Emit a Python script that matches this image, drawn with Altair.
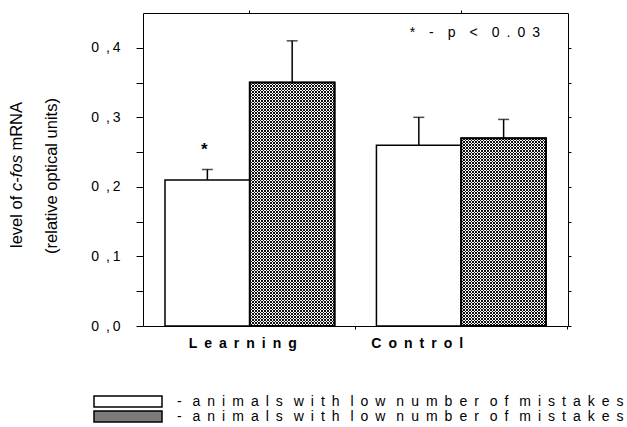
import math

import altair as alt
import pandas as pd

# ---- data -------------------------------------------------------------
groups = ["Learning", "Control"]
series = ["plain", "hatched"]

plain_means = [0.21, 0.26]
plain_sem = [0.015, 0.04]
plain_marks = ["*", ""]

hatched_means = [0.35, 0.27]
hatched_sem = [0.06, 0.027]
hatched_marks = ["", ""]

legend_text = "- animals with low number of mistakes"
note_text = "* - p < 0.03"
title_parts = ["level of", "c-fos", "mRNA"]
title_line2 = "(relative optical units)"

y_ticks = [round(i * 0.05, 2) for i in range(9)]

rows = []
for i, g in enumerate(groups):
    rows.append(dict(group=g, series="plain", value=plain_means[i],
                     sem=plain_sem[i], mark=plain_marks[i]))
    rows.append(dict(group=g, series="hatched", value=hatched_means[i],
                     sem=hatched_sem[i], mark=hatched_marks[i]))
df = pd.DataFrame(rows)
df["top"] = df["value"] + df["sem"]

# ---- layout -----------------------------------------------------------
LEFT, TOP, W, H = 143, 13, 425, 313
Y_MAX = 0.45
PAD_INNER, PAD_OUTER = 0.198, 0.104
FONT = "Liberation Sans"
EN = "\u2002"


def spaced(text, gap=EN, word_gap=EN + " "):
    """Letter-spaced rendering of a phrase."""
    return word_gap.join(gap.join(w) for w in text.split(" "))


# cross-hatch fill built from two families of 45-degree stripes that
# repeat every H_PERIOD px along a row, each stripe one period-third wide
H_PERIOD, DARK = 3.0, 1 / 3
INK, CLEAR = "#111111", "rgba(0,0,0,0)"
MESH_GREY = "#7b7b7b"  # average tone of the mesh, used for the legend swatch


def mesh_fill(w, h, rising):
    n = math.ceil((w + h) / H_PERIOD)
    # stretch the gradient so that n periods span exactly n * H_PERIOD px
    s = (n * H_PERIOD) / (w * w + h * h)
    if rising:
        x1, y1, x2, y2 = 0, 0, s * w, s * h
    else:
        x1, y1, x2, y2 = 0, 1, s * w, 1 - s * h
    stops = []
    for k in range(n):
        a, b, c = k / n, (k + DARK) / n, (k + 1) / n
        stops += [
            alt.GradientStop(offset=a, color=INK),
            alt.GradientStop(offset=b, color=INK),
            alt.GradientStop(offset=b, color=CLEAR),
            alt.GradientStop(offset=c, color=CLEAR),
        ]
    return alt.LinearGradient(gradient="linear", stops=stops,
                              x1=x1, y1=y1, x2=x2, y2=y2)


step = W / (len(groups) - PAD_INNER + 2 * PAD_OUTER)
bar_w = step * (1 - PAD_INNER) / len(series)

x_scale = alt.Scale(paddingInner=PAD_INNER, paddingOuter=PAD_OUTER)
y_scale = alt.Scale(domain=[0, Y_MAX], nice=False, zero=True)
xo_scale = alt.Scale(paddingInner=0, paddingOuter=0)

axis_common = dict(domainColor="black", domainWidth=1, tickColor="black",
                   tickWidth=1, grid=False, title=None)

label_map = " : ".join(
    [f"datum.value == '{g}' ? '{spaced(g)}'" for g in groups[:-1]]
    + [f"'{spaced(groups[-1])}'"]
)
bottom_axis = alt.Axis(
    orient="bottom", bandPosition=1.124, tickSize=3, labelAngle=0,
    labelFont=FONT, labelFontSize=14, labelFontWeight="bold",
    labelColor="black", labelBaseline="alphabetic", labelPadding=18,
    labelExpr=label_map,
    labelOffset={"condition": {"test": "datum.value == 'Control'", "value": -44},
                 "value": -7},
    **axis_common,
)
top_axis = alt.Axis(orient="top", tickSize=3, labels=False, **axis_common)
left_axis = alt.Axis(
    orient="left", values=y_ticks, tickSize=7, labelPadding=16,
    labelFont=FONT, labelFontSize=14, labelColor="black",
    labelExpr="round(datum.value * 100) % 10 == 0 ? "
              "replace(format(datum.value, '.1f'), '.', '\u2002,\u2009') : ''",
    **axis_common,
)
right_axis = alt.Axis(orient="right", values=y_ticks, tickSize=3,
                      labels=False, **axis_common)


def x_enc(axis=None):
    return alt.X("group:N", sort=groups, scale=x_scale, axis=axis, title=None)


def y_enc(field="value", axis=None):
    return alt.Y(f"{field}:Q", scale=y_scale, axis=axis, title=None)


xo = alt.XOffset("series:N", sort=series, scale=xo_scale)

legend = alt.Legend(
    orient="none", legendX=-50, legendY=381, title=None, direction="vertical",
    symbolType="M-1,-0.162H1V0.162H-1Z", symbolSize=68 * 68,
    symbolStrokeColor="black", symbolStrokeWidth=1.5,
    labelFont=FONT, labelFontSize=14, labelColor="black", labelLimit=700,
    labelOffset=14, labelExpr=f"'{spaced(legend_text)}'",
    clipHeight=15, rowPadding=0, padding=0,
)

# ---- marks ------------------------------------------------------------
bars = alt.Chart(df).mark_bar(stroke="black", strokeWidth=1.5).encode(
    x=x_enc(bottom_axis), xOffset=xo, y=y_enc(axis=left_axis),
    fill=alt.Fill("series:N", sort=series, legend=legend,
                  scale=alt.Scale(domain=series, range=["white", MESH_GREY])),
)

hatched = alt.Chart(df).transform_filter("datum.series == 'hatched'")
hatch_base = hatched.mark_bar(fill="white", strokeWidth=0).encode(
    x=x_enc(), xOffset=xo, y=y_enc())

stripe_layers = []
for g, v in zip(groups, hatched_means):
    h = v / Y_MAX * H
    for rising in (True, False):
        stripe_layers.append(
            alt.Chart(df)
            .transform_filter(f"datum.group == '{g}' && datum.series == 'hatched'")
            .mark_bar(fill=mesh_fill(bar_w, h, rising), strokeWidth=0)
            .encode(x=x_enc(), xOffset=xo, y=y_enc())
        )

hatch_outline = hatched.mark_bar(fill="white", fillOpacity=0, stroke="black",
                                 strokeWidth=2).encode(
    x=x_enc(), xOffset=xo, y=y_enc())

err_lines = alt.Chart(df).mark_rule(color="black", strokeWidth=1.5).encode(
    x=x_enc(top_axis), xOffset=xo, y=y_enc(axis=right_axis), y2="top:Q")

err_caps = alt.Chart(df).mark_tick(color="black", size=11, thickness=1.5).encode(
    x=x_enc(), xOffset=xo, y=y_enc("top"))

sig = alt.Chart(df).mark_text(
    font=FONT, fontSize=17, fontWeight="bold", color="black",
    baseline="alphabetic", dy=-15, dx=-3,
).encode(x=x_enc(), xOffset=xo, y=y_enc("top"), text="mark:N")

note = alt.Chart(pd.DataFrame({"t": [spaced(note_text, word_gap=EN * 2)]})).mark_text(
    font=FONT, fontSize=14, color="black", align="right", baseline="middle",
).encode(x=alt.value(397), y=alt.value(20), text="t:N")

# rotated y-axis title, two lines, with the gene name in italics
t1 = alt.Chart(pd.DataFrame({"t": [title_parts[0]]})).mark_text(
    font=FONT, fontSize=16.5, color="black", angle=270, align="left",
    baseline="alphabetic").encode(x=alt.value(-121), y=alt.value(235), text="t:N")
t2 = alt.Chart(pd.DataFrame({"t": [title_parts[1]]})).mark_text(
    font=FONT, fontSize=16.5, fontStyle="italic", color="black", angle=270,
    align="center", baseline="alphabetic").encode(
    x=alt.value(-121), y=alt.value(160), text="t:N")
t3 = alt.Chart(pd.DataFrame({"t": [title_parts[2]]})).mark_text(
    font=FONT, fontSize=16.5, color="black", angle=270, align="right",
    baseline="alphabetic").encode(x=alt.value(-121), y=alt.value(89), text="t:N")
t4 = alt.Chart(pd.DataFrame({"t": [title_line2]})).mark_text(
    font=FONT, fontSize=16.5, color="black", angle=270, align="center",
    baseline="alphabetic").encode(x=alt.value(-86), y=alt.value(163), text="t:N")

chart = (
    alt.layer(bars, hatch_base, *stripe_layers, hatch_outline, err_lines,
              err_caps, sig, note, t1, t2, t3, t4)
    .resolve_axis(x="independent", y="independent")
    .properties(
        width=W, height=H,
        padding={"left": LEFT, "top": TOP, "right": 627 - LEFT - W,
                 "bottom": 427 - TOP - H},
        autosize=alt.AutoSizeParams(type="none"),
        background="white",
    )
    .configure_view(strokeWidth=0)
)

chart.save("out.html", embed_options={"renderer": "svg", "actions": False})
